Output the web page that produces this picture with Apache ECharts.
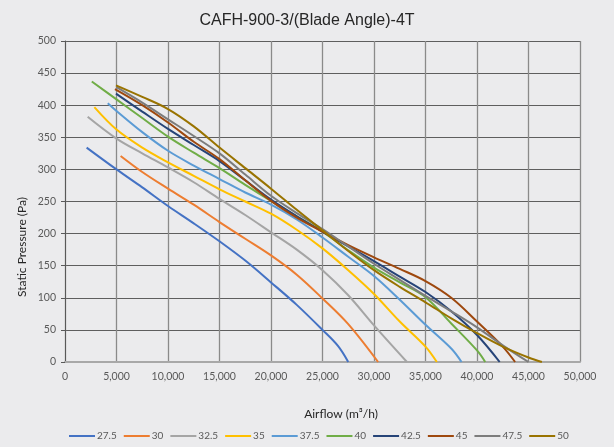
<!DOCTYPE html>
<html><head><meta charset="utf-8">
<script src="https://cdn.jsdelivr.net/npm/echarts@6/dist/echarts.min.js"></script>
<style>html,body{margin:0;padding:0;background:#ebebed}#c{width:614px;height:447px}</style>
</head><body><div id="c"></div>
<script>
const chartTitle = 'CAFH-900-3/(Blade Angle)-4T';
const xAxisTitle = 'Airflow (m\u00b3/h)';
const yAxisTitle = 'Static Pressure (Pa)';
const bladeAngles = ['27.5','30','32.5','35','37.5','40','42.5','45','47.5','50'];
const xTickValues = [0,5000,10000,15000,20000,25000,30000,35000,40000,45000,50000];
const yTickValues = [0,50,100,150,200,250,300,350,400,450,500];

// [airflow m3/h, static pressure Pa]
const curve27_5 = [[2100,334],[5000,300],[7500,272],[10000,243],[12500,216],[15000,188],[17500,158],[20000,124],[22500,89],[25000,50],[26500,25],[27500,0]];
const curve30   = [[5400,321],[7500,296],[10000,270],[12500,245],[15000,218],[17500,192],[20000,166],[22500,136],[25000,99],[27500,59],[30400,0]];
const curve32_5 = [[2200,382],[5000,348],[7500,325],[10000,303],[12500,280],[15000,254],[17500,229],[20000,202],[22500,175],[25000,143],[27500,104],[30000,57],[33200,0]];
const curve35   = [[2850,397],[5000,362],[7500,334],[10000,311],[12500,290],[15000,269],[17500,250],[20000,231],[22500,206],[25000,177],[27500,143],[30000,106],[32500,63],[35000,24],[36100,0]];
const curve37_5 = [[4150,403],[5000,391],[7500,358],[10000,329],[12500,306],[15000,285],[17500,264],[20000,245],[22500,222],[25000,194],[27500,164],[30000,134],[32500,97],[35000,58],[37500,21],[38500,0]];
const curve40   = [[2600,437],[5000,409],[7500,380],[10000,351],[12500,326],[15000,302],[17500,276],[20000,251],[22500,227],[25000,203],[27500,174],[30000,147],[32500,124],[35000,101],[37500,60],[40000,18],[40800,0]];
const curve42_5 = [[4950,418],[7500,390],[10000,363],[12500,338],[15000,313],[17500,283],[20000,253],[22500,227],[25000,203],[27500,180],[30000,157],[32500,133],[35000,109],[37500,79],[40000,42],[42200,0]];
const curve45   = [[4850,425],[7500,400],[10000,373],[12500,343],[15000,316],[17500,283],[20000,251],[22500,225],[25000,203],[27500,182],[30000,163],[32500,145],[35000,126],[37500,100],[40000,63],[42500,24],[43700,0]];
const curve47_5 = [[5000,428],[7500,404],[10000,378],[12500,352],[15000,325],[17500,292],[20000,259],[22500,232],[25000,207],[27500,180],[30000,153],[32500,128],[35000,103],[37500,79],[40000,54],[42500,26],[45000,0]];
const curve50   = [[4950,431],[7500,413],[10000,394],[12500,367],[15000,334],[17500,302],[20000,270],[22500,237],[25000,205],[27500,173],[30000,143],[32500,117],[35000,93],[37500,68],[40000,45],[42500,24],[45000,7],[46300,0]];

const curves = [curve27_5,curve30,curve32_5,curve35,curve37_5,curve40,curve42_5,curve45,curve47_5,curve50];
const colors = ['#4472C4','#ED7D31','#A5A5A5','#FFC000','#5B9BD5','#70AD47','#264478','#9E480E','#7C7C7C','#997300'];

const chart = echarts.init(document.getElementById('c'), null, {renderer:'canvas'});
const labelFont = 'Lato';
chart.setOption({
  backgroundColor:'#ebebed',
  animation:false,
  title:{text:chartTitle,left:'center',top:8,textStyle:{fontFamily:'Liberation Sans',fontSize:16,fontWeight:'normal',color:'#262626'}},
  grid:{left:65,right:34,top:41,bottom:85,containLabel:false},
  xAxis:{type:'value',min:xTickValues[0],max:xTickValues[xTickValues.length-1],interval:xTickValues[1]-xTickValues[0],
    axisLine:{show:true,lineStyle:{color:'#a8a8a8',width:2}},
    axisTick:{show:false},
    axisLabel:{margin:9,fontFamily:labelFont,fontSize:10.5,color:'#595959',formatter:v=>v.toLocaleString('en-US')},
    splitLine:{show:true,lineStyle:{color:'#8a8a8a',width:1.3}}},
  yAxis:{type:'value',min:yTickValues[0],max:yTickValues[yTickValues.length-1],interval:yTickValues[1]-yTickValues[0],
    axisLine:{show:true,lineStyle:{color:'#595959',width:1}},
    axisTick:{show:true,length:4,lineStyle:{color:'#595959'}},
    axisLabel:{margin:9,fontFamily:labelFont,fontSize:10.5,color:'#595959'},
    splitLine:{show:true,lineStyle:{color:'#5e5e5e',width:1}}},
  legend:{top:426,left:64,icon:'rect',itemWidth:26,itemHeight:2,itemGap:7,
    textStyle:{fontFamily:labelFont,fontSize:10,color:'#595959',padding:[0,0,0,-3]},
    data:bladeAngles},
  graphic:[
    {type:'text',x:341,y:414,style:{text:xAxisTitle,font:'12px Lato',fill:'#262626',textAlign:'center',textVerticalAlign:'middle'}},
    {type:'text',x:22,y:247,rotation:Math.PI/2,style:{text:yAxisTitle,font:'12px Lato',fill:'#262626',textAlign:'center',textVerticalAlign:'middle'}}
  ],
  series:bladeAngles.map((name,i)=>({
    name:name,type:'line',data:curves[i],smooth:0.35,symbol:'none',
    color:colors[i],lineStyle:{width:2,color:colors[i]}
  }))
});
</script></body></html>
